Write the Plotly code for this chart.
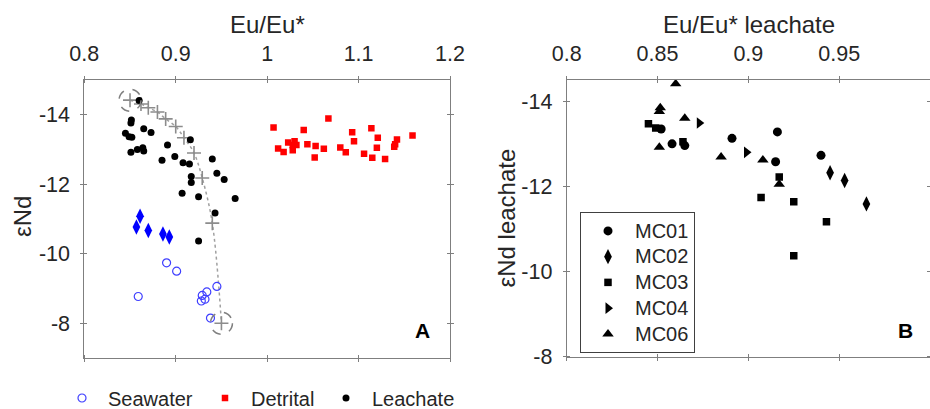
import plotly.graph_objects as go

# ---------------- Panel A data ----------------
sea_x = [0.890, 0.901, 0.859, 0.929, 0.934, 0.928, 0.932, 0.945, 0.938]
sea_y = [-9.74, -9.50, -8.77, -8.80, -8.90, -8.64, -8.69, -9.06, -8.15]

dia_x = [0.861, 0.857, 0.870, 0.886, 0.893]
dia_y = [-11.08, -10.77, -10.67, -10.57, -10.48]

det_x = [1.007, 1.012, 1.018, 1.023, 1.028, 1.030, 1.028, 1.032, 1.040, 1.044,
         1.052, 1.053, 1.062, 1.067, 1.080, 1.086, 1.093, 1.095, 1.106, 1.114,
         1.115, 1.121, 1.120, 1.129, 1.139, 1.140, 1.142, 1.159]
det_y = [-13.63, -13.03, -12.93, -13.20, -12.98, -13.24, -13.13, -13.13, -13.56, -13.15,
         -12.77, -13.10, -13.02, -13.89, -13.06, -12.92, -13.50, -13.24, -12.88, -13.61,
         -12.76, -13.34, -13.05, -12.73, -13.08, -13.15, -13.29, -13.40]

mix_x = [0.850, 0.862, 0.870, 0.880, 0.889, 0.900, 0.909, 0.920, 0.929, 0.940, 0.950]
mix_y = [-14.42, -14.31, -14.20, -14.08, -13.88, -13.66, -13.34, -12.90, -12.18, -10.88, -8.00]
end_x = [0.850, 0.950]
end_y = [-14.42, -8.00]

# ---------------- Panel B data (leachate by core) ----------------
mc01_x = [0.852, 0.858, 0.865, 0.891, 0.916, 0.915, 0.940]
mc01_y = [-13.35, -13.00, -12.96, -13.13, -13.28, -12.58, -12.73]
mc02_x = [0.945, 0.953, 0.965]
mc02_y = [-12.32, -12.14, -11.59]
mc03_x = [0.845, 0.849, 0.864, 0.917, 0.907, 0.925, 0.943, 0.925]
mc03_y = [-13.47, -13.37, -13.05, -12.22, -11.74, -11.64, -11.17, -10.37]
mc04_x = [0.873, 0.899]
mc04_y = [-13.49, -12.80]
mc06_x = [0.860, 0.8515, 0.851, 0.865, 0.851, 0.885, 0.908, 0.917]
mc06_y = [-14.41, -13.85, -13.76, -13.60, -12.92, -12.69, -12.62, -12.05]

leach_x = mc01_x + mc02_x + mc03_x + mc04_x + mc06_x
leach_y = mc01_y + mc02_y + mc03_y + mc04_y + mc06_y

ax_a_ticks = [0.8, 0.9, 1.0, 1.1, 1.2]
ax_a_text = ["0.8", "0.9", "1", "1.1", "1.2"]
ay_a_ticks = [-14, -12, -10, -8]
ay_a_text = ["-14", "-12", "-10", "-8"]
ax_b_ticks = [0.8, 0.85, 0.9, 0.95, 1.0]
ax_b_text = ["0.8", "0.85", "0.9", "0.95", "1"]
ay_b_ticks = [-14, -12, -10, -8]
ay_b_text = ["-14", "-12", "-10", "-8"]

FONT = "Liberation Sans, Arial, sans-serif"
AX = "#7f7f7f"
TXT = "#262626"

fig = go.Figure()

# mixing curve
fig.add_trace(go.Scatter(x=mix_x, y=mix_y, mode="lines+markers", xaxis="x", yaxis="y",
                         line=dict(color="#a0a0a0", width=1.5, dash="dot", shape="spline"),
                         marker=dict(symbol="cross-thin", size=10, line=dict(color="#8c8c8c", width=1.6)),
                         showlegend=False, hoverinfo="skip"))
fig.add_trace(go.Scatter(x=sea_x, y=sea_y, mode="markers", name="Seawater", xaxis="x", yaxis="y",
                         marker=dict(symbol="circle-open", size=8, color="#3f3fff", line=dict(width=1.2)),
                         legend="legend"))
fig.add_trace(go.Scatter(x=det_x, y=det_y, mode="markers", name="Detrital", xaxis="x", yaxis="y",
                         marker=dict(symbol="square", size=6.5, color="#ff0000"), legend="legend3"))
fig.add_trace(go.Scatter(x=leach_x, y=leach_y, mode="markers", name="Leachate", xaxis="x", yaxis="y",
                         marker=dict(symbol="circle", size=7, color="#000000"), legend="legend4"))
fig.add_trace(go.Scatter(x=dia_x, y=dia_y, mode="markers", xaxis="x", yaxis="y",
                         marker=dict(symbol="diamond-tall", size=11, color="#0000ff"), showlegend=False))

# panel B
for nm, xs, ys, sym, sz in [("MC01", mc01_x, mc01_y, "circle", 9),
                            ("MC02", mc02_x, mc02_y, "diamond-tall", 11),
                            ("MC03", mc03_x, mc03_y, "square", 7.5),
                            ("MC04", mc04_x, mc04_y, "triangle-right", 10),
                            ("MC06", mc06_x, mc06_y, "triangle-up", 10)]:
    fig.add_trace(go.Scatter(x=xs, y=ys, mode="markers",
                             name='<span style="font-size:20px">' + nm + '</span>',
                             xaxis="x2", yaxis="y2",
                             marker=dict(symbol=sym, size=sz, color="#000000"), legend="legend2"))

# dashed circles around end-members
shapes = []
for ex, ey in zip(end_x, end_y):
    shapes.append(dict(type="circle", xref="x", yref="y", xsizemode="pixel", ysizemode="pixel",
                       xanchor=ex, yanchor=ey, x0=-11, x1=11, y0=-11, y1=11,
                       line=dict(color="#808080", width=1.5, dash="dash")))

def axis_common(tv, tt):
    return dict(tickmode="array", tickvals=tv, ticktext=tt, showline=True, linecolor=AX, linewidth=1,
                mirror="ticks", ticks="outside", ticklen=3, tickcolor=AX, tickwidth=1,
                minor=dict(tickmode="array", tickvals=tv, ticks="inside", ticklen=3, tickcolor=AX, tickwidth=1),
                showgrid=False, zeroline=False, tickfont=dict(size=21.5, color=TXT, family=FONT))

W, H = 930, 409
ML, MR, MT, MB = 0, 0, 80, 51

xa = axis_common(ax_a_ticks, ax_a_text); xa.update(range=[0.8, 1.2], side="top", domain=[84.3 / W, 450 / W], anchor="y", ticklabelstandoff=6)
ya = axis_common(ay_a_ticks, ay_a_text); ya.update(range=[-7, -15], domain=[0, 1], anchor="x", ticklabelstandoff=6)
xb = axis_common(ax_b_ticks, ax_b_text); xb.update(range=[0.8, 1.0], side="top", domain=[566.7 / W, 1.0], anchor="y2", ticklabelstandoff=6)
yb = axis_common(ay_b_ticks, ay_b_text); yb.update(range=[-8, -14.5], domain=[1.3 / 278, 1], anchor="x2", ticklabelstandoff=6)

ph = H - MT - MB
def py(p):
    return (H - MB - p) / ph

annotations = [
    dict(text="Eu/Eu*", x=267.5 / W, y=py(25), xref="paper", yref="paper", showarrow=False,
         font=dict(size=24, color=TXT, family=FONT), xanchor="center", yanchor="middle"),
    dict(text="Eu/Eu* leachate", x=748.5 / W, y=py(25), xref="paper", yref="paper", showarrow=False,
         font=dict(size=24, color=TXT, family=FONT), xanchor="center", yanchor="middle"),
    dict(text="εNd", x=22 / W, y=py(217), xref="paper", yref="paper", showarrow=False, textangle=-90,
         font=dict(size=24, color=TXT, family=FONT), xanchor="center", yanchor="middle"),
    dict(text="εNd leachate", x=505.5 / W, y=py(218), xref="paper", yref="paper", showarrow=False, textangle=-90,
         font=dict(size=24, color=TXT, family=FONT), xanchor="center", yanchor="middle"),
    dict(text="<b>A</b>", x=422 / W, y=py(330), xref="paper", yref="paper", showarrow=False,
         font=dict(size=21, color="#000000", family=FONT), xanchor="center", yanchor="middle"),
    dict(text="<b>B</b>", x=905 / W, y=py(330), xref="paper", yref="paper", showarrow=False,
         font=dict(size=21, color="#000000", family=FONT), xanchor="center", yanchor="middle"),
]

def bottom_legend(marker_px):
    return dict(orientation="h", x=(marker_px - 26) / W, y=py(398), xanchor="left", yanchor="middle",
                itemwidth=42, font=dict(size=20, color=TXT, family=FONT), bgcolor="rgba(0,0,0,0)")

fig.update_layout(
    width=W, height=H, margin=dict(l=ML, r=MR, t=MT, b=MB, autoexpand=False),
    paper_bgcolor="white", plot_bgcolor="white",
    font=dict(family=FONT, color=TXT),
    xaxis=xa, yaxis=ya, xaxis2=xb, yaxis2=yb,
    shapes=shapes, annotations=annotations,
    legend=bottom_legend(82),
    legend3=bottom_legend(225),
    legend4=bottom_legend(346),
    legend2=dict(x=580 / W, y=py(212), xanchor="left", yanchor="top", itemwidth=44,
                 font=dict(size=17.5, color=TXT, family=FONT), bgcolor="white",
                 bordercolor="#404040", borderwidth=1),
    showlegend=True,
)

fig.write_html("out.html")
